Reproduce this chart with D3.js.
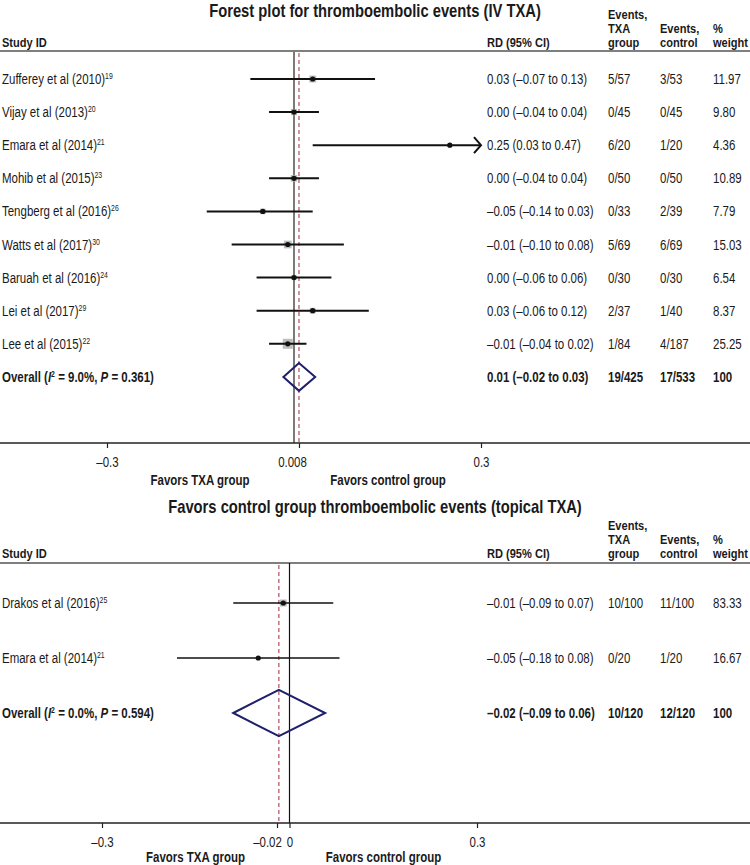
<!DOCTYPE html>
<html>
<head>
<meta charset="utf-8">
<script src="https://cdn.jsdelivr.net/npm/d3@7"></script>
<style>
  html, body { margin: 0; padding: 0; background: #ffffff; }
  svg { display: block; }
</style>
</head>
<body>
<div id="chart"></div>
<script>
/* ── data: IV TXA ───────────────────────────────────────── */
const ivStudy   = ["Zufferey et al (2010)", "Vijay et al (2013)", "Emara et al (2014)", "Mohib et al (2015)",
                   "Tengberg et al (2016)", "Watts et al (2017)", "Baruah et al (2016)", "Lei et al (2017)", "Lee et al (2015)"];
const ivRef     = ["19", "20", "21", "23", "26", "30", "24", "29", "22"];
const ivRD      = [0.03, 0.00, 0.25, 0.00, -0.05, -0.01, 0.00, 0.03, -0.01];
const ivLow     = [-0.07, -0.04, 0.03, -0.04, -0.14, -0.10, -0.06, -0.06, -0.04];
const ivHigh    = [0.13, 0.04, 0.47, 0.04, 0.03, 0.08, 0.06, 0.12, 0.02];
const ivTxaEv   = [5, 0, 6, 0, 0, 5, 0, 2, 1];
const ivTxaN    = [57, 45, 20, 50, 33, 69, 30, 37, 84];
const ivCtrlEv  = [3, 0, 1, 0, 2, 6, 0, 1, 4];
const ivCtrlN   = [53, 45, 20, 50, 39, 69, 30, 40, 187];
const ivWeight  = [11.97, 9.80, 4.36, 10.89, 7.79, 15.03, 6.54, 8.37, 25.25];
const ivOverall = [-0.017, 0.008, 0.034];          // low, estimate, high
const ivHet     = ["9.0%", "0.361"];                // I², P
const ivTicks   = [-0.3, 0.008, 0.3];
const ivTickLab = ["–0.3", "0.008", "0.3"];

/* ── data: topical TXA ──────────────────────────────────── */
const tpStudy   = ["Drakos et al (2016)", "Emara et al (2014)"];
const tpRef     = ["25", "21"];
const tpRD      = [-0.01, -0.05];
const tpLow     = [-0.09, -0.18];
const tpHigh    = [0.07, 0.08];
const tpTxaEv   = [10, 0];
const tpTxaN    = [100, 20];
const tpCtrlEv  = [11, 1];
const tpCtrlN   = [100, 20];
const tpWeight  = [83.33, 16.67];
const tpOverall = [-0.09, -0.017, 0.057];
const tpHet     = ["0.0%", "0.594"];
const tpTicks   = [-0.3, -0.02, 0, 0.3];
const tpTickLab = ["–0.3", "–0.02", "0", "0.3"];

/* ── fonts: narrow face if present, else squeeze Liberation Sans ── */
const ctx = document.createElement("canvas").getContext("2d");
function measure(font) { ctx.font = font; return ctx.measureText("Forest plot thromboembolic events").width; }
const hasNarrow = measure('14px "Liberation Sans Narrow", "Liberation Sans"') < measure('14px "Liberation Sans"') * 0.95;
const FAMILY = hasNarrow ? '"Liberation Sans Narrow", "Arial Narrow", sans-serif' : '"Liberation Sans", Arial, sans-serif';
const SX = hasNarrow ? 1 : 0.82;

const W = 750, H = 865;
const COL = { rd: 487, txa: 608, ctrl: 660, wt: 713 };

const svg = d3.select("#chart").append("svg")
  .attr("width", W).attr("height", H)
  .attr("viewBox", `0 0 ${W} ${H}`);

// text with optional superscript / italic parts
function txt(parent, x, y, parts, o = {}) {
  if (typeof parts === "string") parts = [{ t: parts }];
  const size = o.size || 14;
  const t = parent.append("text")
    .attr("transform", `translate(${x},${y}) scale(${SX},1)`)
    .attr("font-family", FAMILY)
    .attr("font-size", size)
    .attr("font-weight", o.bold ? "bold" : "normal")
    .attr("text-anchor", o.anchor || "start")
    .attr("fill", "#1a1a1a");
  let shift = 0;
  parts.forEach(p => {
    const s = t.append("tspan").text(p.t);
    const target = p.sup ? -5 : 0;
    if (target !== shift) { s.attr("dy", target - shift); shift = target; }
    if (p.sup) s.attr("font-size", size * 0.6);
    if (p.it) s.attr("font-style", "italic");
  });
  return t;
}

const fmt = v => (v < 0 ? "–" : "") + Math.abs(v).toFixed(2);
const ciText = (e, l, h) => `${fmt(e)} (${fmt(l)} to ${fmt(h)})`;

function drawPanel(P) {
  const g = svg.append("g");
  const n = P.study.length;
  const x = d3.scaleLinear().domain([-0.3, 0.3]).range(P.range);
  const y = d3.scaleLinear().domain([0, n]).range([P.rowY0, P.rowY0 + n * P.rowStep]);
  const box = d3.scaleSqrt().domain([0, d3.max(P.weight)]).range([0, P.boxMax]);
  const [oLow, oEst, oHigh] = P.overall;

  // title + column headers
  txt(g, W / 2, P.titleY, P.title, { size: 18, bold: true, anchor: "middle" });
  const hb = P.headBase, L = 14, hs = 13.5;
  txt(g, 2, hb, "Study ID", { bold: true, size: hs });
  txt(g, COL.rd, hb, "RD (95% CI)", { bold: true, size: hs });
  txt(g, COL.txa, hb - 2 * L, "Events,", { bold: true, size: hs });
  txt(g, COL.txa, hb - L, "TXA", { bold: true, size: hs });
  txt(g, COL.txa, hb, "group", { bold: true, size: hs });
  txt(g, COL.ctrl, hb - L, "Events,", { bold: true, size: hs });
  txt(g, COL.ctrl, hb, "control", { bold: true, size: hs });
  txt(g, COL.wt, hb - L, "%", { bold: true, size: hs });
  txt(g, COL.wt, hb, "weight", { bold: true, size: hs });

  g.append("line")
    .attr("x1", 0).attr("x2", W).attr("y1", P.headLine).attr("y2", P.headLine)
    .attr("stroke", "#555").attr("stroke-width", 1.5);

  // reference lines
  g.append("line")
    .attr("x1", x(0)).attr("x2", x(0)).attr("y1", P.headLine).attr("y2", P.axisY)
    .attr("stroke", P.zeroColor).attr("stroke-width", P.zeroWidth);
  g.append("line")
    .attr("x1", x(oEst)).attr("x2", x(oEst)).attr("y1", P.headLine + 2).attr("y2", P.axisY)
    .attr("stroke", "#a3293f").attr("stroke-width", 1).attr("stroke-dasharray", "4,3");

  // axis
  g.append("line")
    .attr("x1", 0).attr("x2", W).attr("y1", P.axisY).attr("y2", P.axisY)
    .attr("stroke", "#222").attr("stroke-width", 1.5);
  const ax = g.append("g")
    .attr("transform", `translate(0,${P.axisY})`)
    .call(d3.axisBottom(x).tickValues(P.ticks).tickSize(5).tickPadding(9)
      .tickFormat((d, i) => P.tickLab[i]));
  ax.select(".domain").remove();
  ax.selectAll(".tick line").attr("stroke", "#222").attr("stroke-width", 1.2);
  ax.selectAll(".tick text")
    .attr("font-family", FAMILY).attr("font-size", 14).attr("fill", "#1a1a1a")
    .attr("transform", `scale(${SX},1)`)
    .attr("dx", d => d === P.estTick ? P.estLabelDx / SX : 0);

  txt(g, x(0) - 94, P.axisY + P.favorsDy, "Favors TXA group", { bold: true, anchor: "middle" });
  txt(g, x(0) + 94, P.axisY + P.favorsDy, "Favors control group", { bold: true, anchor: "middle" });

  // studies
  d3.range(n).forEach(i => {
    const cy = y(i);
    const s = box(P.weight[i]);
    g.append("rect")
      .attr("x", x(P.rd[i]) - s / 2).attr("y", cy - s / 2)
      .attr("width", s).attr("height", s).attr("fill", "#bdbdbd");
    const lo = Math.max(P.low[i], -0.3), hi = Math.min(P.high[i], 0.3);
    g.append("line")
      .attr("x1", x(lo)).attr("x2", x(hi)).attr("y1", cy).attr("y2", cy)
      .attr("stroke", "#111").attr("stroke-width", P.ciWidth);
    if (P.high[i] > 0.3) {
      g.append("path")
        .attr("d", `M${x(hi) - 7},${cy - 8}L${x(hi)},${cy}L${x(hi) - 7},${cy + 8}`)
        .attr("fill", "none").attr("stroke", "#111").attr("stroke-width", P.ciWidth);
    }
    g.append("circle")
      .attr("cx", x(P.rd[i])).attr("cy", cy).attr("r", 2.6).attr("fill", "#111");

    const ty = cy + 5;
    txt(g, 2, ty, [{ t: P.study[i] }, { t: P.ref[i], sup: true }]);
    txt(g, COL.rd, ty, ciText(P.rd[i], P.low[i], P.high[i]));
    txt(g, COL.txa, ty, `${P.txaEv[i]}/${P.txaN[i]}`);
    txt(g, COL.ctrl, ty, `${P.ctrlEv[i]}/${P.ctrlN[i]}`);
    txt(g, COL.wt, ty, d3.format(".2f")(P.weight[i]));
  });

  // overall
  const oy = y(n), hh = P.rowStep * 0.42;
  g.append("path")
    .attr("d", `M${x(oLow)},${oy}L${x(oEst)},${oy - hh}L${x(oHigh)},${oy}L${x(oEst)},${oy + hh}Z`)
    .attr("fill", "none").attr("stroke", "#1f1f6b").attr("stroke-width", 2);
  const ty = oy + 5;
  txt(g, 2, ty, [
    { t: "Overall (" }, { t: "I", it: true }, { t: "2", sup: true },
    { t: ` = ${P.het[0]}, ` }, { t: "P", it: true }, { t: ` = ${P.het[1]})` }
  ], { bold: true });
  txt(g, COL.rd, ty, ciText(oEst, oLow, oHigh), { bold: true });
  txt(g, COL.txa, ty, `${d3.sum(P.txaEv)}/${d3.sum(P.txaN)}`, { bold: true });
  txt(g, COL.ctrl, ty, `${d3.sum(P.ctrlEv)}/${d3.sum(P.ctrlN)}`, { bold: true });
  txt(g, COL.wt, ty, d3.format(".0f")(d3.sum(P.weight)), { bold: true });
}

drawPanel({
  title: "Forest plot for thromboembolic events (IV TXA)",
  study: ivStudy, ref: ivRef, rd: ivRD, low: ivLow, high: ivHigh,
  txaEv: ivTxaEv, txaN: ivTxaN, ctrlEv: ivCtrlEv, ctrlN: ivCtrlN, weight: ivWeight,
  overall: ivOverall, het: ivHet, ticks: ivTicks, tickLab: ivTickLab,
  estTick: 0.008, estLabelDx: -7,
  titleY: 16.5, headBase: 47, headLine: 51, rowY0: 79, rowStep: 33.1, axisY: 443, favorsDy: 41.5,
  range: [107, 481], boxMax: 10, ciWidth: 2, zeroColor: "#7a7a7a", zeroWidth: 2
});

drawPanel({
  title: "Favors control group thromboembolic events (topical TXA)",
  study: tpStudy, ref: tpRef, rd: tpRD, low: tpLow, high: tpHigh,
  txaEv: tpTxaEv, txaN: tpTxaN, ctrlEv: tpCtrlEv, ctrlN: tpCtrlN, weight: tpWeight,
  overall: tpOverall, het: tpHet, ticks: tpTicks, tickLab: tpTickLab,
  estTick: -0.02, estLabelDx: -10,
  titleY: 512.5, headBase: 558, headLine: 563, rowY0: 603, rowStep: 55, axisY: 823, favorsDy: 38.5,
  range: [102, 477], boxMax: 7, ciWidth: 1.6, zeroColor: "#111", zeroWidth: 1.2
});
</script>
</body>
</html>
